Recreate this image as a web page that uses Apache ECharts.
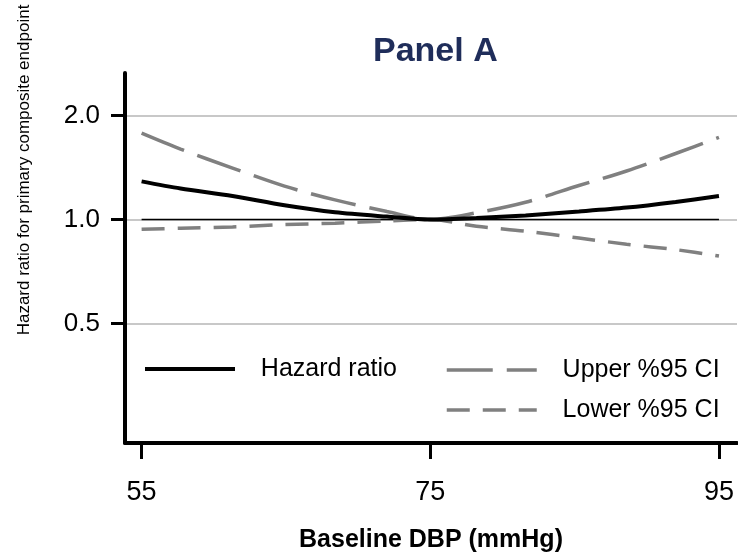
<!DOCTYPE html>
<html>
<head>
<meta charset="utf-8">
<style>
  html, body { margin: 0; padding: 0; background: #fff; }
  #chart { width: 738px; height: 553px; }
</style>
<script src="https://cdn.jsdelivr.net/npm/echarts@6/dist/echarts.min.js"></script>
</head>
<body>
<div id="chart"></div>
<script>
// baseline DBP sample points
const dbp = [55, 57.7, 61.3, 64.9, 68.4, 72, 75, 78.2, 81.6, 85.3, 88.6, 92, 95]
const hazard = [1.29, 1.23, 1.17, 1.10, 1.05, 1.02, 1.00, 1.01, 1.028, 1.055, 1.083, 1.125, 1.17]
const upperCI = [1.78, 1.60, 1.41, 1.25, 1.14, 1.055, 1.00, 1.046, 1.122, 1.255, 1.383, 1.554, 1.73]
const lowerCI = [0.937, 0.944, 0.952, 0.967, 0.976, 0.991, 1.00, 0.956, 0.925, 0.884, 0.848, 0.818, 0.784]
const refLine = [[55, 1], [95, 1]]
const xTicks = [55, 75, 95]
const yTicks = [0.5, 1, 2]

const font = 'Liberation Sans, Arial, sans-serif'
const pts = (ys) => dbp.map((x, i) => [x, ys[i]])

// legend entries: line only, no symbol
const legendItem = (name, width) => ({ name, lineStyle: { width } })
const legendBase = {
  padding: 0,
  itemWidth: 90,
  itemHeight: 28,
  itemStyle: { opacity: 0 },
  formatter: '   {name}',
  textStyle: { fontFamily: font, fontSize: 25, color: '#000', lineHeight: 28 },
}

const chart = echarts.init(document.getElementById('chart'), null, { renderer: 'canvas' })

chart.setOption({
  backgroundColor: '#fff',
  animation: false,
  textStyle: { fontFamily: font, color: '#000' },
  title: {
    text: 'Panel A',
    left: 368,
    top: 30,
    textStyle: { fontFamily: font, fontSize: 34, fontWeight: 'bold', color: '#1f2d5a' },
  },
  grid: { left: 125, right: 1, top: 73, bottom: 110, containLabel: false, outerBoundsMode: 'none' },
  legend: [
    {
      ...legendBase,
      data: [legendItem('Hazard ratio', 4)],
      left: 143,
      top: 355,
    },
    {
      ...legendBase,
      data: [legendItem('Upper %95 CI', 3.5), legendItem('Lower %95 CI', 3.5)],
      orient: 'vertical',
      left: 445,
      top: 356,
      itemGap: 12,
    },
  ],
  xAxis: {
    type: 'value',
    min: 53.85,
    max: 96.25,
    name: 'Baseline DBP (mmHg)',
    nameLocation: 'middle',
    nameGap: 85,
    nameTextStyle: { fontFamily: font, fontSize: 25, fontWeight: 'bold', color: '#000' },
    axisLine: { show: true, lineStyle: { color: '#000', width: 4 } },
    axisTick: { show: true, customValues: xTicks, length: 16, lineStyle: { color: '#000', width: 3 } },
    axisLabel: { customValues: xTicks, margin: 36, fontSize: 27, color: '#000', fontFamily: font },
    splitLine: { show: false },
  },
  yAxis: {
    type: 'log',
    logBase: 2,
    min: 0.225,
    max: 2.66,
    axisLine: { show: true, lineStyle: { color: '#000', width: 4 } },
    axisTick: { show: true, customValues: yTicks, length: 14, lineStyle: { color: '#000', width: 3 } },
    axisLabel: {
      customValues: yTicks,
      margin: 25,
      fontSize: 26,
      color: '#000',
      fontFamily: font,
      formatter: (v) => Number(v).toFixed(1),
    },
    splitLine: { show: true, customValues: yTicks, lineStyle: { color: '#c8c8c8', width: 2 } },
  },
  graphic: [
    {
      type: 'text',
      x: 24,
      y: 170,
      rotation: Math.PI / 2,
      style: {
        text: 'Hazard ratio for primary composite endpoint',
        fontFamily: font,
        fontSize: 17,
        fill: '#000',
        align: 'center',
        verticalAlign: 'middle',
      },
    },
  ],
  series: [
    {
      name: 'ref',
      type: 'line',
      data: refLine,
      symbol: 'none',
      silent: true,
      lineStyle: { color: '#000', width: 1.5 },
      z: 1,
    },
    {
      name: 'Lower %95 CI',
      type: 'line',
      data: pts(lowerCI),
      smooth: 0.3,
      symbol: 'none',
      color: '#808080',
      lineStyle: { color: '#808080', width: 3.5, type: [23, 13] },
      z: 2,
    },
    {
      name: 'Upper %95 CI',
      type: 'line',
      data: pts(upperCI),
      smooth: 0.3,
      symbol: 'none',
      color: '#808080',
      lineStyle: { color: '#808080', width: 3.5, type: [46, 14] },
      z: 2,
    },
    {
      name: 'Hazard ratio',
      type: 'line',
      data: pts(hazard),
      smooth: 0.3,
      symbol: 'none',
      color: '#000',
      lineStyle: { color: '#000', width: 4 },
      z: 3,
    },
  ],
})
</script>
</body>
</html>
